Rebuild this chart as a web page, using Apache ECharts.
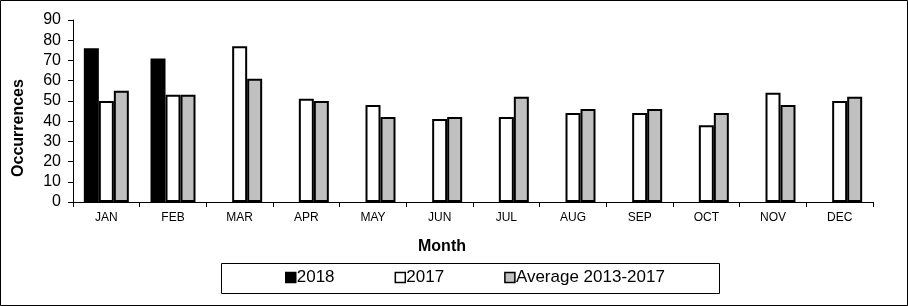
<!DOCTYPE html>
<html>
<head>
<meta charset="utf-8">
<script src="https://cdn.jsdelivr.net/npm/echarts@6/dist/echarts.min.js"></script>
<style>
  html, body { margin: 0; padding: 0; background: #fff; }
  #chart { width: 908px; height: 306px; }
</style>
</head>
<body>
<div id="chart"></div>
<script>
// months on the x axis
const months = ['JAN', 'FEB', 'MAR', 'APR', 'MAY', 'JUN', 'JUL', 'AUG', 'SEP', 'OCT', 'NOV', 'DEC'];
// occurrences per month
const y2018 = [76, 71, null, null, null, null, null, null, null, null, null, null];
const y2017 = [50, 53, 77, 51, 48, 41, 42, 44, 44, 38, 54, 50];
const avg1317 = [55, 53, 61, 50, 42, 42, 52, 46, 46, 44, 48, 52];
const yTicks = { min: 0, max: 90, step: 10 };

const font = 'Arial, "Liberation Sans", sans-serif';

function barSeries (name, data, color) {
  return {
    name: name,
    type: 'bar',
    data: data,
    barWidth: 15,
    barGap: '0%',
    itemStyle: { color: color, borderColor: '#000', borderWidth: 2 },
    emphasis: { disabled: true },
    animation: false
  };
}

const chart = echarts.init(document.getElementById('chart'));
chart.setOption({
  animation: false,
  textStyle: { fontFamily: font, color: '#000' },
  grid: { left: 73, right: 35, top: 20, bottom: 104, containLabel: false },
  legend: {
    left: 285,
    top: 269,
    padding: 0,
    icon: 'rect',
    itemWidth: 10,
    itemHeight: 10,
    itemGap: 60,
    itemStyle: { borderWidth: 1.5, borderColor: '#000' },
    textStyle: { fontFamily: font, fontSize: 17, color: '#000', padding: [0, 0, 0, -4] },
    data: ['2018', '2017', 'Average 2013-2017']
  },
  xAxis: {
    type: 'category',
    data: months,
    boundaryGap: true,
    axisLine: { lineStyle: { color: '#000', width: 1 } },
    axisTick: { show: true, length: 5, alignWithLabel: false, lineStyle: { color: '#000' } },
    axisLabel: { fontFamily: font, fontSize: 12, color: '#000', margin: 10 },
    splitLine: { show: false }
  },
  yAxis: {
    type: 'value',
    min: yTicks.min,
    max: yTicks.max,
    interval: yTicks.step,
    axisLine: { show: true, lineStyle: { color: '#000', width: 1 } },
    axisTick: { show: true, length: 5, lineStyle: { color: '#000' } },
    axisLabel: { fontFamily: font, fontSize: 16, color: '#000', margin: 12 },
    splitLine: { show: false }
  },
  graphic: [
    {
      type: 'rect',
      shape: { x: 0.5, y: 0.5, width: 907, height: 305 },
      style: { fill: 'none', stroke: '#000', lineWidth: 1 },
      silent: true
    },
    {
      type: 'rect',
      shape: { x: 221.5, y: 263.5, width: 498, height: 30 },
      style: { fill: 'none', stroke: '#000', lineWidth: 1 },
      silent: true
    },
    {
      type: 'text',
      x: 442,
      y: 247,
      style: {
        text: 'Month',
        font: 'bold 16px ' + font,
        fill: '#000',
        textAlign: 'center',
        textVerticalAlign: 'middle'
      }
    },
    {
      type: 'text',
      x: 19,
      y: 128,
      rotation: Math.PI / 2,
      style: {
        text: 'Occurrences',
        font: 'bold 16px ' + font,
        fill: '#000',
        textAlign: 'center',
        textVerticalAlign: 'middle'
      }
    }
  ],
  series: [
    barSeries('2018', y2018, '#000000'),
    barSeries('2017', y2017, '#ffffff'),
    barSeries('Average 2013-2017', avg1317, '#c0c0c0')
  ]
});
</script>
</body>
</html>
